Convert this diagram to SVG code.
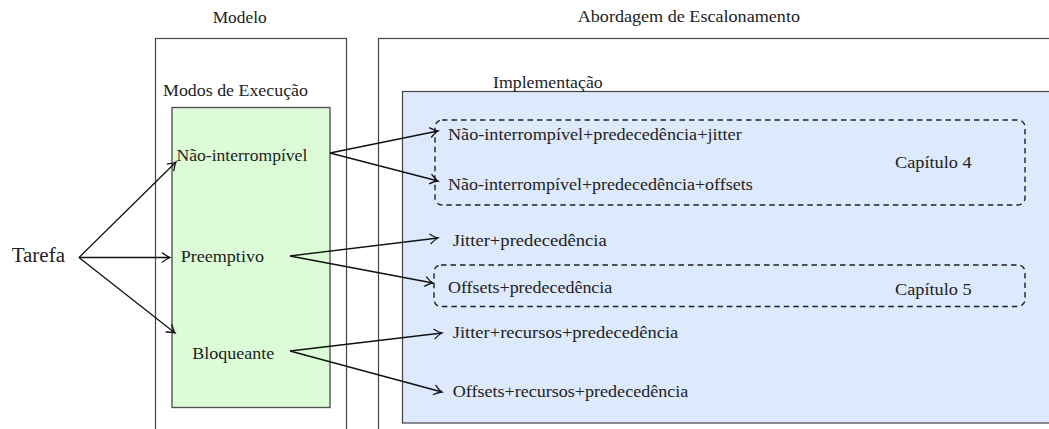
<svg xmlns="http://www.w3.org/2000/svg" width="1049" height="429" viewBox="0 0 1049 429">
<style>
  text { font-family: "Liberation Serif", "DejaVu Serif", serif; font-size: 16.5px; fill: #222; }
  .frame { fill: none; stroke: #444; stroke-width: 1.2; }
  .green { fill: #dcfcd7; stroke: #555; stroke-width: 1.4; }
  .blue { fill: #dde9fc; stroke: #444; stroke-width: 1.2; }
  .dash { fill: none; stroke: #222; stroke-width: 1.4; stroke-dasharray: 5.5 4; }
  .conn { fill: none; stroke: #111; stroke-width: 1.3; marker-end: url(#arr); }
</style>
<defs>
  <marker id="arr" markerUnits="userSpaceOnUse" markerWidth="20" markerHeight="20" viewBox="-10 -10 20 20" refX="0" refY="0" orient="auto">
    <path d="M-8,-5 Q-3,-1 0,0 Q-3,1 -8,5" fill="none" stroke="#111" stroke-width="1.3"/>
  </marker>
</defs>
<rect width="1049" height="429" fill="#fff"/>

<g id="modelo">
  <rect class="frame" x="155.5" y="38.5" width="191" height="420"/>
  <text x="212.7" y="23" textLength="54" lengthAdjust="spacingAndGlyphs">Modelo</text>
</g>
<g id="abordagem">
  <rect class="frame" x="378.5" y="38.5" width="700" height="420"/>
  <text x="577.7" y="22" textLength="222.3" lengthAdjust="spacingAndGlyphs">Abordagem de Escalonamento</text>
</g>
<g id="modos">
  <rect class="green" x="172" y="107.5" width="158" height="300"/>
  <text x="163" y="96" textLength="145" lengthAdjust="spacingAndGlyphs">Modos de Execução</text>
</g>
<g id="implementacao">
  <rect class="blue" x="402.5" y="91.5" width="700" height="331.5"/>
  <text x="493" y="88" textLength="109.7" lengthAdjust="spacingAndGlyphs">Implementação</text>
</g>
<g id="capitulo4">
  <rect class="dash" x="435" y="120" width="590" height="85" rx="7" ry="7"/>
  <text x="895" y="168" textLength="76.7" lengthAdjust="spacingAndGlyphs">Capítulo 4</text>
</g>
<g id="capitulo5">
  <rect class="dash" x="434" y="265" width="591" height="41.5" rx="7" ry="7"/>
  <text x="895" y="295" textLength="76.7" lengthAdjust="spacingAndGlyphs">Capítulo 5</text>
</g>

<g id="tarefa"><text x="11.7" y="262" style="font-size:20.5px" textLength="53.3" lengthAdjust="spacingAndGlyphs">Tarefa</text></g>
<g id="nao-interrompivel"><text x="176.5" y="161" textLength="130.8" lengthAdjust="spacingAndGlyphs">Não-interrompível</text></g>
<g id="preemptivo"><text x="180.7" y="262" textLength="83.3" lengthAdjust="spacingAndGlyphs">Preemptivo</text></g>
<g id="bloqueante"><text x="192.3" y="359" textLength="82" lengthAdjust="spacingAndGlyphs">Bloqueante</text></g>

<g id="ni-jitter"><text x="448" y="140" textLength="293.7" lengthAdjust="spacingAndGlyphs">Não-interrompível+predecedência+jitter</text></g>
<g id="ni-offsets"><text x="448" y="190" textLength="304.7" lengthAdjust="spacingAndGlyphs">Não-interrompível+predecedência+offsets</text></g>
<g id="jitter-pred"><text x="452.7" y="246" textLength="154" lengthAdjust="spacingAndGlyphs">Jitter+predecedência</text></g>
<g id="offsets-pred"><text x="448" y="293" textLength="164.3" lengthAdjust="spacingAndGlyphs">Offsets+predecedência</text></g>
<g id="jitter-rec"><text x="452.7" y="338" textLength="225.6" lengthAdjust="spacingAndGlyphs">Jitter+recursos+predecedência</text></g>
<g id="offsets-rec"><text x="452.7" y="397" textLength="235.6" lengthAdjust="spacingAndGlyphs">Offsets+recursos+predecedência</text></g>

<g id="connectors">
  <line class="conn" x1="79" y1="257.5" x2="176" y2="162"/>
  <line class="conn" x1="79" y1="257.5" x2="170" y2="257.5"/>
  <line class="conn" x1="79" y1="257.5" x2="175" y2="333"/>
  <line class="conn" x1="330" y1="153" x2="438" y2="131"/>
  <line class="conn" x1="330" y1="153" x2="438" y2="181"/>
  <line class="conn" x1="290" y1="256" x2="438" y2="238"/>
  <line class="conn" x1="290" y1="256" x2="433" y2="283"/>
  <line class="conn" x1="290" y1="351" x2="442" y2="333"/>
  <line class="conn" x1="290" y1="351" x2="442" y2="392"/>
</g>
</svg>
